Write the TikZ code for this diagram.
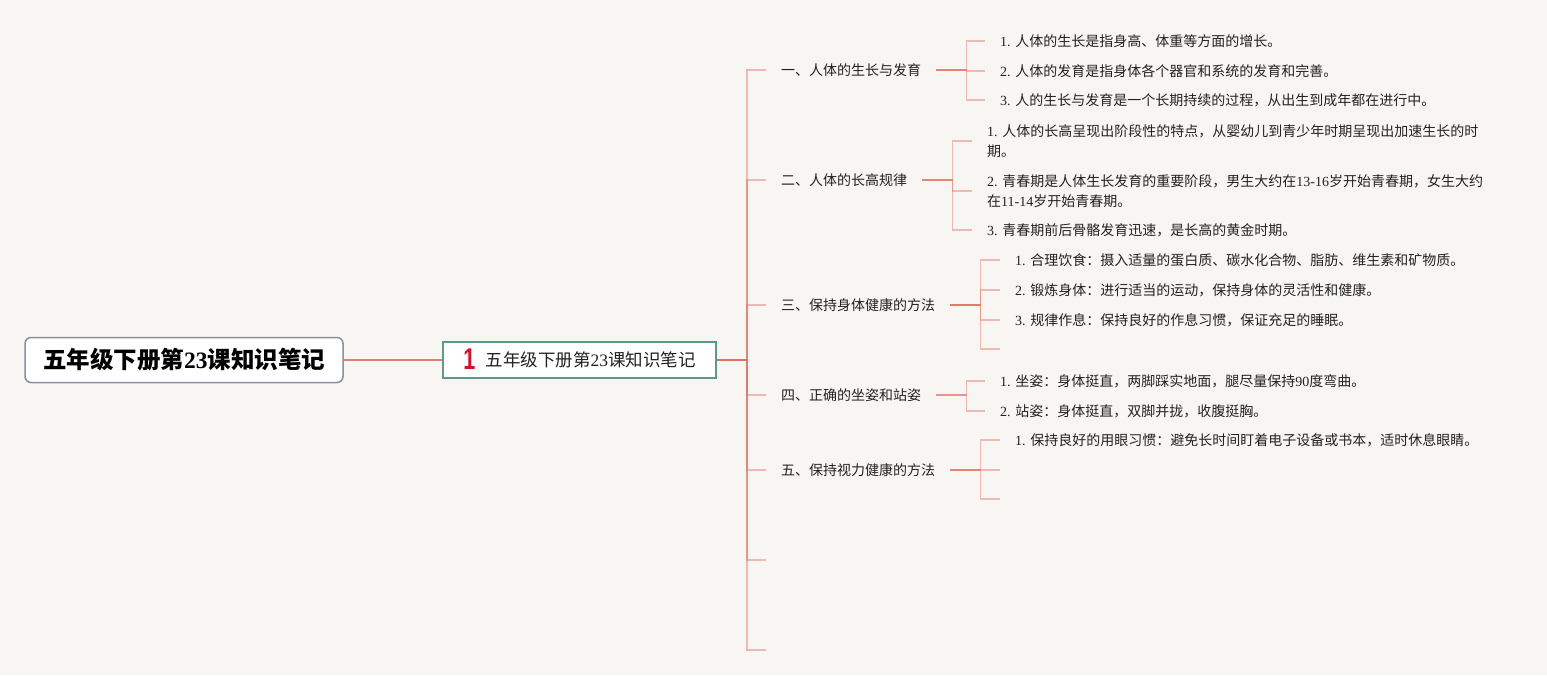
\documentclass[tikz,border=0pt]{standalone}
\usepackage{fontspec}
\setmainfont{Noto Sans CJK SC}
\newfontfamily\lat{Liberation Serif}
\newfontfamily\latsans{Liberation Sans}
\newcommand\N[1]{{\lat #1}}
\definecolor{bgc}{HTML}{F8F6F3}
\definecolor{linec}{HTML}{E07060}
\definecolor{mainline}{HTML}{E17F72}
\definecolor{rootborder}{HTML}{8A90A0}
\definecolor{ctrborder}{HTML}{5E9A8C}
\definecolor{iconred}{HTML}{D3122C}
\definecolor{txt}{HTML}{222222}
\tikzset{
  rootbox/.style={draw=rootborder, line width=1.5pt, fill=white, rounded corners=6pt,
    minimum width=318pt, minimum height=45pt, inner sep=0pt, text=black,
    font=\fontsize{23.5}{26}\selectfont\bfseries},
  ctrbox/.style={draw=ctrborder, line width=1.5pt, fill=white,
    minimum width=273pt, minimum height=36pt, inner sep=0pt, text=txt,
    font=\fontsize{17.5}{20}\selectfont},
  lbl/.style={anchor=west, inner xsep=15pt, inner ysep=0pt, text=txt,
    font=\fontsize{14}{20.5}\selectfont},
  leaf/.style={lbl, align=left},
  conn/.style={draw=linec, line width=1.8pt, opacity=0.45},
  rootline/.style={draw=mainline, line width=2pt}
}
\begin{document}
\begin{tikzpicture}[x=1pt,y=-1pt]
\fill[bgc] (0,0) rectangle (1547,675);
\useasboundingbox (0,0) rectangle (1547,675);

% root and center
\node[rootbox] (root) at (184,360) {五年级下册第\N{23}课知识笔记};
\node[ctrbox] (ctr) at (579.5,360) {\smash{\raisebox{-2.5pt}{\textcolor{iconred}{\scalebox{0.72}[1]{\latsans\bfseries\fontsize{30}{30}\selectfont 1}}}}\hspace{10pt}五年级下册第\N{23}课知识笔记\hspace{2pt}};
\draw[rootline] (root.east) -- (ctr.west);

% level-1 labels
\node[lbl] (l1) at (766,70) {一、人体的生长与发育};
\node[lbl] (l2) at (766,180) {二、人体的长高规律};
\node[lbl] (l3) at (766,305) {三、保持身体健康的方法};
\node[lbl] (l4) at (766,395) {四、正确的坐姿和站姿};
\node[lbl] (l5) at (766,470) {五、保持视力健康的方法};
\coordinate (l6) at (766,560);
\coordinate (l7) at (766,650);

\foreach \t in {l1,l2,l3,l4,l5}
  \draw[conn] (ctr.east) -- ++(30,0) |- (\t.west);
\foreach \t in {l6,l7}
  \draw[conn] (ctr.east) -- ++(30,0) |- (\t);

% branch 1
\node[leaf] (c11) at (985,41) {\N{1. }人体的生长是指身高、体重等方面的增长。};
\node[leaf] (c12) at (985,71) {\N{2. }人体的发育是指身体各个器官和系统的发育和完善。};
\node[leaf] (c13) at (985,100) {\N{3. }人的生长与发育是一个长期持续的过程，从出生到成年都在进行中。};
\foreach \t in {c11,c12,c13}
  \draw[conn] (l1.east) -- ++(30,0) |- (\t.west);

% branch 2
\node[leaf] (c21) at (972,141) {\N{1. }人体的长高呈现出阶段性的特点，从婴幼儿到青少年时期呈现出加速生长的时\\期。};
\node[leaf] (c22) at (972,191) {\N{2. }青春期是人体生长发育的重要阶段，男生大约在\N{13-16}岁开始青春期，女生大约\\在\N{11-14}岁开始青春期。};
\node[leaf] (c23) at (972,230) {\N{3. }青春期前后骨骼发育迅速，是长高的黄金时期。};
\foreach \t in {c21,c22,c23}
  \draw[conn] (l2.east) -- ++(30,0) |- (\t.west);

% branch 3
\node[leaf] (c31) at (1000,260) {\N{1. }合理饮食：摄入适量的蛋白质、碳水化合物、脂肪、维生素和矿物质。};
\node[leaf] (c32) at (1000,290) {\N{2. }锻炼身体：进行适当的运动，保持身体的灵活性和健康。};
\node[leaf] (c33) at (1000,320) {\N{3. }规律作息：保持良好的作息习惯，保证充足的睡眠。};
\coordinate (c34) at (1000,349);
\foreach \t in {c31,c32,c33}
  \draw[conn] (l3.east) -- ++(30,0) |- (\t.west);
\draw[conn] (l3.east) -- ++(30,0) |- (c34);

% branch 4
\node[leaf] (c41) at (985,381) {\N{1. }坐姿：身体挺直，两脚踩实地面，腿尽量保持\N{90}度弯曲。};
\node[leaf] (c42) at (985,411) {\N{2. }站姿：身体挺直，双脚并拢，收腹挺胸。};
\foreach \t in {c41,c42}
  \draw[conn] (l4.east) -- ++(30,0) |- (\t.west);

% branch 5
\node[leaf] (c51) at (1000,440) {\N{1. }保持良好的用眼习惯：避免长时间盯着电子设备或书本，适时休息眼睛。};
\coordinate (c52) at (1000,470);
\coordinate (c53) at (1000,499);
\draw[conn] (l5.east) -- ++(30,0) |- (c51.west);
\foreach \t in {c52,c53}
  \draw[conn] (l5.east) -- ++(30,0) |- (\t);
\end{tikzpicture}
\end{document}
